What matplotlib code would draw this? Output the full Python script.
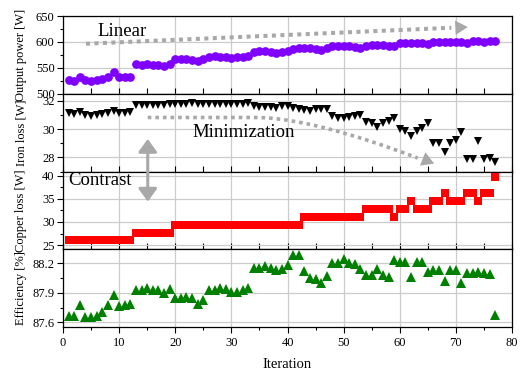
import numpy as np
import matplotlib
matplotlib.use("Agg")
import matplotlib.pyplot as plt
from matplotlib.ticker import MultipleLocator, FormatStrFormatter

plt.rcParams['font.family'] = ['Liberation Serif', 'DejaVu Serif']

iterations = np.arange(1, 78)

power = [526, 525, 533, 526, 525, 527, 529, 533, 541, 533, 532, 533,
         557, 556, 557, 556, 556, 554, 557,
         567, 567, 568, 566, 563, 567,
         571, 572, 571, 570, 569, 570, 571, 573,
         581, 582, 582, 580, 578, 580, 583,
         587, 589, 589, 588, 587, 585, 589,
         592, 593, 592, 592, 590, 588,
         593, 595, 595, 594, 593, 592,
         597, 598, 598, 597, 598, 596,
         599, 600, 600, 600, 600, 599,
         598, 602, 601, 600, 601, 602]

iron = [31.17, 31.06, 31.2, 31.0, 30.94, 31.0, 31.1, 31.17, 31.3, 31.17, 31.15, 31.2,
        31.71, 31.72, 31.7, 31.72, 31.71, 31.7, 31.75,
        31.78, 31.8, 31.8, 31.82, 31.8, 31.78,
        31.8, 31.8, 31.78, 31.8, 31.8, 31.78, 31.8, 31.82,
        31.6, 31.53, 31.53, 31.55, 31.5, 31.6, 31.6,
        31.5, 31.4, 31.35, 31.3, 31.4, 31.45, 31.4,
        30.9, 30.8, 30.75, 30.85, 30.9, 31.0,
        30.5, 30.4, 30.15, 30.4, 30.55, 30.8,
        30.0, 29.9, 29.5, 29.9, 30.1, 30.4,
        29.05, 29.05, 28.35, 29.05, 29.2, 29.8,
        27.9, 27.9, 29.15, 27.9, 27.95, 27.7]

copper = ([26.0] * 12 + [27.6] * 7 + [29.3] * 23 + [31.1] * 11 + [32.8] * 5 +
          [31.1] + [32.8] * 2 + [34.5] + [32.8] * 3 + [34.5] * 2 + [36.3] +
          [34.5] * 3 + [36.3] * 2 + [34.5] + [36.3] * 2 + [39.7])

efficiency = [87.66, 87.66, 87.78, 87.65, 87.655, 87.665, 87.70, 87.78, 87.88, 87.77, 87.78, 87.785,
              87.925, 87.925, 87.95, 87.925, 87.925, 87.90, 87.94,
              87.845, 87.845, 87.86, 87.845, 87.79, 87.83,
              87.925, 87.925, 87.95, 87.935, 87.91, 87.91, 87.93, 87.95,
              88.155, 88.155, 88.17, 88.155, 88.13, 88.14, 88.18,
              88.285, 88.285, 88.12, 88.055, 88.045, 88.0, 88.07,
              88.2, 88.2, 88.245, 88.2, 88.19, 88.14,
              88.08, 88.08, 88.14, 88.08, 88.065, 88.23,
              88.215, 88.215, 88.065, 88.215, 88.215, 88.115,
              88.13, 88.13, 88.02, 88.13, 88.13, 88.0,
              88.1, 88.1, 88.115, 88.1, 88.095, 87.675]

ylabels = ["Output power [W]", "Iron loss [W]", "Copper loss [W]", "Efficiency [%]"]

fig = plt.figure(figsize=(5.24, 3.75), dpi=100)
gs = fig.add_gridspec(4, 1, hspace=0, left=63/524, right=512/524,
                      top=1-16/375, bottom=1-327/375)
axes = [fig.add_subplot(gs[i]) for i in range(4)]
ax1, ax2, ax3, ax4 = axes

ax1.plot(iterations, power, 'o', color='#8000ff', ms=6.3, mew=0, zorder=3)
ax2.plot(iterations, iron, 'v', color='black', ms=5.6, mew=0, zorder=3)
ax3.plot(iterations, copper, 's', color='#ff0000', ms=5.2, mew=0, zorder=3)
ax4.plot(iterations, efficiency, '^', color='#008000', ms=6.8, mew=0, zorder=3)

ax1.set_ylim(500, 650)
ax1.yaxis.set_major_locator(MultipleLocator(50))
ax1.yaxis.set_minor_locator(MultipleLocator(25))
ax2.set_ylim(27.0, 32.5)
ax2.yaxis.set_major_locator(MultipleLocator(2))
ax2.yaxis.set_minor_locator(MultipleLocator(1))
ax3.set_ylim(24.1, 40.9)
ax3.yaxis.set_major_locator(MultipleLocator(5))
ax3.yaxis.set_minor_locator(MultipleLocator(2.5))
ax4.set_ylim(87.552, 88.344)
ax4.set_yticks([87.6, 87.9, 88.2])
ax4.yaxis.set_minor_locator(MultipleLocator(0.15))
ax4.yaxis.set_major_formatter(FormatStrFormatter('%.1f'))

for i, ax in enumerate(axes):
    ax.set_xlim(0, 80)
    ax.xaxis.set_major_locator(MultipleLocator(10))
    ax.xaxis.set_minor_locator(MultipleLocator(5))
    ax.grid(True, which='major', color='#cccccc', lw=0.9, zorder=0)
    ax.set_axisbelow(True)
    ax.tick_params(axis='y', which='major', direction='out', length=4, width=0.8, labelsize=9, pad=2)
    ax.tick_params(axis='y', which='minor', direction='out', length=2, width=0.8)
    ax.set_ylabel(ylabels[i], fontsize=9)
    ax.yaxis.set_label_coords(-0.08, 0.5)
    for s in ax.spines.values():
        s.set_linewidth(0.9)
    if i < 3:
        ax.tick_params(axis='x', which='both', direction='in', labelbottom=False)
        ax.tick_params(axis='x', which='major', length=4, width=0.8)
        ax.tick_params(axis='x', which='minor', length=4, width=0.8)
    else:
        ax.tick_params(axis='x', which='major', direction='out', length=4, width=0.8, labelsize=9)
        ax.tick_params(axis='x', which='minor', direction='out', length=2.5, width=0.8)

ax4.set_xlabel("Iteration", fontsize=10.5, labelpad=6)

grey = '#a8a8a8'
# Linear arrow
ax1.plot([4.1, 69.2], [596.5, 627.3], color=grey, lw=2.9, ls=(0, (1, 1.1)),
         dash_capstyle='butt', zorder=2)
ax1.plot([70.6], [629.0], marker=(3, 0, -87), color=grey, ms=12, mew=0, zorder=2, clip_on=False)
ax1.text(6.2, 611, "Linear", fontsize=13.5, va='baseline', ha='left')

# Minimization arrow (curved)
t = np.linspace(0, 1, 60)
p0 = np.array([34.0, 30.82]); pc = np.array([44.0, 30.85]); p2 = np.array([63.2, 27.95])
bez = ((1 - t)[:, None] ** 2) * p0 + (2 * (1 - t) * t)[:, None] * pc + (t ** 2)[:, None] * p2
xs = np.concatenate([[15.1], bez[:, 0]])
ys = np.concatenate([[30.82], bez[:, 1]])
ax2.plot(xs, ys, color=grey, lw=2.6, ls=(0, (1, 1.1)), dash_capstyle='butt', zorder=2)
ax2.plot([64.7], [27.83], marker=(3, 0, -112), color=grey, ms=12, mew=0, zorder=2, clip_on=False)
ax2.text(23.1, 29.46, "Minimization", fontsize=13.5, va='baseline', ha='left')

# Contrast double arrow spanning two panels (drawn from lower panel so it stays on top)
ax3.annotate('', xy=(15.1, 34.4), xycoords='data',
             xytext=(15.1, 29.3), textcoords=ax2.transData,
             arrowprops=dict(arrowstyle='<|-|>,head_length=0.55,head_width=0.4',
                             color=grey, lw=2.2, mutation_scale=14,
                             shrinkA=0, shrinkB=0),
             annotation_clip=False, zorder=5)
ax3.text(0.9, 37.95, "Contrast", fontsize=13.5, va='baseline', ha='left')

fig.savefig("out.png", dpi=100)
